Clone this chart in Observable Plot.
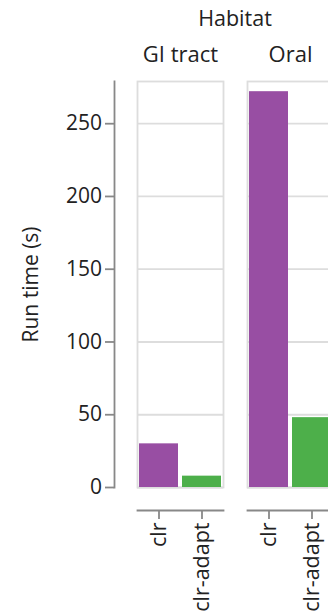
<!DOCTYPE html>
<html>
<head>
<meta charset="utf-8">
<script src="https://cdn.jsdelivr.net/npm/d3@7"></script>
<script src="https://cdn.jsdelivr.net/npm/@observablehq/plot@0.6"></script>
<style>
  html, body { margin: 0; padding: 0; background: #fff; overflow: hidden; }
  #chart { width: 340px; font-family: "Open Sans", sans-serif; color: #222; }
  #title { margin-left: 137px; width: 196px; text-align: center; font-size: 21.5px; height: 34px; line-height: 36px; }
</style>
</head>
<body>
<div id="chart"><div id="title">Habitat</div></div>
<script>
// Run time of each method, faceted by habitat
const habitats = ["GI tract", "Oral"];
const methods = ["clr", "clr-adapt"];
const habitat = ["GI tract", "GI tract", "Oral", "Oral"];
const method = ["clr", "clr-adapt", "clr", "clr-adapt"];
const runTime = [30, 7.8, 272, 48];
const yTicks = [0, 50, 100, 150, 200, 250];
const colors = ["#984ea3", "#4daf4a"];

const rows = habitat.map((h, i) => ({habitat: h, method: method[i], time: runTime[i]}));

const axisColor = "#888";
const gridColor = "#ddd";

const chart = Plot.plot({
  width: 340,
  height: 580,
  marginLeft: 137,
  marginRight: 7,
  marginTop: 47,
  marginBottom: 127,
  style: {fontFamily: "Open Sans, sans-serif", fontSize: "21px", color: "#222", maxWidth: "none", background: "#fff"},
  fx: {domain: habitats, paddingInner: 24 / 110, paddingOuter: 0, label: null},
  x: {domain: methods, paddingInner: 0.1, paddingOuter: 0.05, label: null},
  y: {domain: [0, 279], label: null},
  color: {domain: methods, range: colors},
  marks: [
    Plot.gridY(yTicks, {stroke: gridColor, strokeOpacity: 1, strokeWidth: 1.8}),
    Plot.frame({stroke: gridColor, strokeWidth: 1.8}),
    Plot.barY(rows, {fx: "habitat", x: "method", y: "time", fill: "method"}),
    Plot.axisFx({anchor: "top", tickSize: 0, tickPadding: 20, fontSize: 22, label: null}),
    Plot.axisY(yTicks, {
      anchor: "left", dx: -23, tickSize: 9, tickPadding: 3.5,
      stroke: axisColor, strokeWidth: 1.8, fontSize: 21,
      label: "Run time (s)", labelAnchor: "center", labelArrow: "none", labelOffset: 114
    }),
    Plot.frame({anchor: "left", dx: -23, facetAnchor: "left", stroke: axisColor, strokeWidth: 1.8}),
    Plot.frame({anchor: "bottom", dy: 23, stroke: axisColor, strokeWidth: 1.8}),
    Plot.axisX({anchor: "bottom", dy: 23, tickSize: 9, tickPadding: 3, tickRotate: -90,
      stroke: axisColor, strokeWidth: 1.8, fontSize: 21.5, label: null})
  ]
});

document.getElementById("chart").appendChild(chart);
</script>
</body>
</html>
